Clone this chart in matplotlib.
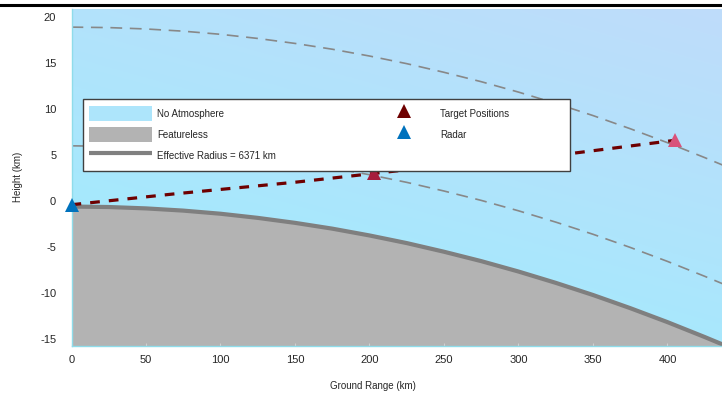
import matplotlib.pyplot as plt
import numpy as np
from matplotlib.lines import Line2D
from matplotlib.patches import Patch, Rectangle

plt.rcParams['font.family'] = ['Liberation Sans', 'DejaVu Sans']
plt.rcParams['lines.scale_dashes'] = False
plt.rcParams['axes.unicode_minus'] = False

# Values (km)
ground_range = [0, 25, 50, 75, 100, 125, 150, 175, 200, 225, 250, 275,
                300, 325, 350, 375, 400, 425, 440]
surface_height = [-0.60, -0.65, -0.80, -1.04, -1.38, -1.83, -2.37, -3.00,
                  -3.74, -4.57, -5.51, -6.53, -7.66, -8.89, -10.21, -11.64,
                  -13.16, -14.78, -15.79]
upper_contour = [18.9, 18.85, 18.7, 18.46, 18.12, 17.67, 17.13, 16.50, 15.76,
                 14.93, 13.99, 12.97, 11.84, 10.61, 9.29, 7.86, 6.34, 4.72, 3.71]
lower_contour = [6.0, 5.95, 5.8, 5.56, 5.22, 4.77, 4.23, 3.60, 2.86,
                 2.03, 1.09, 0.07, -1.06, -2.29, -3.61, -5.04, -6.56, -8.18, -9.19]

ray_range = [0, 68, 151, 203, 270, 337, 405]
ray_height = [-0.4, 0.76, 2.06, 3.0, 4.2, 5.2, 6.6]

target_range = [203, 405]
target_height = [3.0, 6.6]
target_colors = ['#A61C3C', '#D9527A']
radar_range = [0]
radar_height = [-0.4]

x_ticks = [0, 50, 100, 150, 200, 250, 300, 350, 400]
y_ticks = [-15, -10, -5, 0, 5, 10, 15, 20]

fig = plt.figure(figsize=(7.22, 3.94), dpi=100)
ax = fig.add_axes([71.5 / 722, 48.5 / 394, 650.5 / 722, 336.5 / 394])
xlim = (0, 436.6)
ylim = (-15.7, 20.87)

# gradient sky background
gv, gu = np.mgrid[0:1:200j, 0:1:200j]
t = 0.65 * gv + 0.35 * gu
c0 = np.array([0x9C, 0xEE, 0xFE]) / 255
c1 = np.array([0xBF, 0xDC, 0xFA]) / 255
grad = c0[None, None, :] * (1 - t[..., None]) + c1[None, None, :] * t[..., None]
ax.imshow(grad, extent=[xlim[0], xlim[1], ylim[0], ylim[1]], origin='lower',
          aspect='auto', zorder=0)

# earth surface
ax.fill_between(ground_range, surface_height, ylim[0], color='#B3B3B3',
                lw=0, zorder=1)
ax.plot(ground_range, surface_height, color='#7F7F7F', lw=3, zorder=1.5)

# constant height contours
ax.plot(ground_range, upper_contour, color='#888888', lw=1.2,
        dashes=(8.5, 5.5), zorder=2)
ax.plot(ground_range, lower_contour, color='#888888', lw=1.2,
        dashes=(8.5, 5.5), zorder=2)

# line of sight
ax.plot(ray_range, ray_height, color='#6E0000', lw=2.3, dashes=(7, 6.5),
        zorder=2.5)

for r, h, c in zip(target_range, target_height, target_colors):
    ax.plot(r, h, marker='^', ms=10.5, color=c, mew=0, ls='none', zorder=3)
ax.plot(radar_range, radar_height, marker='^', ms=10.5, color='#0072BD',
        mew=0, ls='none', zorder=3.5, clip_on=False)

ax.set_xlim(xlim)
ax.set_ylim(ylim)
ax.set_xticks(x_ticks)
ax.set_yticks(y_ticks)
ax.tick_params(axis='x', direction='in', length=2, color='#d0d0d0',
               labelsize=8, labelcolor='#262626', pad=7)
ax.tick_params(axis='y', length=0, labelsize=8, labelcolor='#262626', pad=11)
for s in ['top', 'right']:
    ax.spines[s].set_visible(False)
for s in ['left', 'bottom']:
    ax.spines[s].set_color('#8FDCEA')
    ax.spines[s].set_linewidth(1)

ax.set_xlabel('Ground Range (km)', fontsize=7, color='#262626')
ax.set_ylabel('Height (km)', fontsize=7, color='#262626')
ax.xaxis.set_label_coords(0.4635, -0.105)
ax.yaxis.set_label_coords(-0.074, 0.5)

# legend box
ax.add_patch(Rectangle((0.0177, 0.5186), 0.749, 0.214, transform=ax.transAxes,
                       facecolor='white', edgecolor='#404040', lw=1, zorder=5))
handles = [
    Patch(facecolor='#ADE5FB', edgecolor='none', label='No Atmosphere'),
    Patch(facecolor='#B3B3B3', edgecolor='none', label='Featureless'),
    Line2D([], [], color='#808080', lw=3, solid_capstyle='butt',
           label='Effective Radius = 6371 km'),
    Line2D([], [], marker='^', ms=10.5, color='#6E0000', mew=0, ls='none',
           label='Target Positions'),
    Line2D([], [], marker='^', ms=10.5, color='#0072BD', mew=0, ls='none',
           label='Radar'),
]
leg = ax.legend(handles=handles, ncol=2, loc='upper left',
                bbox_to_anchor=(0.0269, 0.712), frameon=False, fontsize=7,
                borderpad=0, borderaxespad=0, handlelength=6.5,
                handleheight=2.0, handletextpad=0.5, labelspacing=0.62,
                columnspacing=9.9)
leg.set_zorder(6)
for txt in leg.get_texts():
    txt.set_color('#262626')

fig.add_artist(Line2D([0, 1], [1 - 5 / 394] * 2, transform=fig.transFigure,
                      color='black', lw=2.2))

fig.savefig('out.png', dpi=100)
